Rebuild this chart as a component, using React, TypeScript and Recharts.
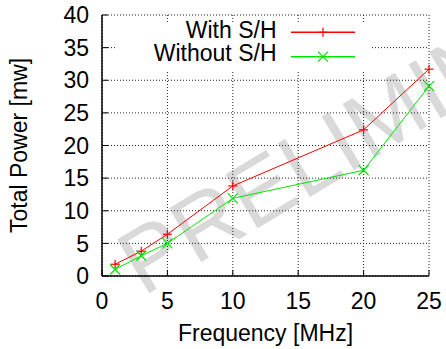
import React from 'react';
import { LineChart, Line, XAxis, YAxis, CartesianGrid, Legend, Label } from 'recharts';

const FREQ_MHZ = [1, 3, 5, 10, 20, 25];
const WITH_SH = [1.8, 3.8, 6.4, 13.8, 22.4, 31.7];
const WITHOUT_SH = [1.0, 3.1, 5.0, 11.9, 16.2, 29.1];
const X_TICKS = [0, 5, 10, 15, 20, 25];
const Y_TICKS = [0, 5, 10, 15, 20, 25, 30, 35, 40];

const RED = '#ff0000';
const GREEN = '#00e600';
const FONT = '"Liberation Sans", Arial, Helvetica, sans-serif';
const FS = 23;

const data = FREQ_MHZ.map((f, i) => ({ freq: f, withSH: WITH_SH[i], withoutSH: WITHOUT_SH[i] }));

function PlusMark({ cx, cy, color }: { cx: number; cy: number; color: string }) {
  const r = 4.5;
  return (
    <g stroke={color} strokeWidth={1.2}>
      <line x1={cx - r} y1={cy} x2={cx + r} y2={cy} />
      <line x1={cx} y1={cy - r} x2={cx} y2={cy + r} />
    </g>
  );
}

function CrossMark({ cx, cy, color }: { cx: number; cy: number; color: string }) {
  const r = 5;
  return (
    <g stroke={color} strokeWidth={1.2}>
      <line x1={cx - r} y1={cy - r} x2={cx + r} y2={cy + r} />
      <line x1={cx - r} y1={cy + r} x2={cx + r} y2={cy - r} />
    </g>
  );
}

// key box sits at left 117, top 15 of the chart
function KeyBox() {
  const rows = [
    { name: 'With S/H', color: RED, mark: 'plus', base: 23.3, line: 17.3 },
    { name: 'Without S/H', color: GREEN, mark: 'cross', base: 46, line: 41.7 },
  ];
  return (
    <svg width={253} height={55} style={{ display: 'block', overflow: 'visible' }}>
      <rect x={0} y={7} width={253} height={48} fill="#fff" />
      {rows.map(r => (
        <g key={r.name}>
          <text x={159.5} y={r.base} textAnchor="end" fontSize={FS} fontFamily={FONT} fill="#000">
            {r.name}
          </text>
          <line x1={174} y1={r.line} x2={238} y2={r.line} stroke={r.color} strokeWidth={1.5} />
          {r.mark === 'plus'
            ? <PlusMark cx={206} cy={r.line} color={r.color} />
            : <CrossMark cx={206} cy={r.line} color={r.color} />}
        </g>
      ))}
    </svg>
  );
}

export default function App() {
  const tickStyle = { fontSize: FS, fontFamily: FONT, fill: '#000' };
  return (
    <div style={{ position: 'absolute', left: 0, top: 0, width: 446, height: 349, background: '#fff', overflow: 'hidden' }}>
      <svg width={446} height={349} style={{ position: 'absolute', left: 0, top: 0 }}>
        <text
          x={143}
          y={297}
          transform="rotate(-31 143 297)"
          fontSize={91}
          fontFamily={FONT}
          fill="#d9d9d9"
        >
          PRELIMINARY
        </text>
      </svg>
      <div style={{ position: 'absolute', left: 0, top: 0 }}>
        <LineChart width={446} height={349} data={data} margin={{ top: 15, right: 17, left: 0, bottom: 0 }}>
          <CartesianGrid stroke="#222" strokeDasharray="1 2" strokeWidth={1} />
          <XAxis
            dataKey="freq"
            type="number"
            domain={[0, 25]}
            ticks={X_TICKS}
            interval={0}
            height={73}
            tickSize={-6}
            tickMargin={23}
            tick={tickStyle}
            axisLine={{ stroke: '#000', strokeWidth: 1.5 }}
            tickLine={{ stroke: '#000' }}
          >
            <Label
              content={({ viewBox }: any) => (
                <text
                  x={viewBox.x + viewBox.width / 2}
                  y={341}
                  textAnchor="middle"
                  fontSize={FS}
                  fontFamily={FONT}
                  fill="#000"
                >
                  Frequency [MHz]
                </text>
              )}
            />
          </XAxis>
          <XAxis
            xAxisId="top"
            orientation="top"
            type="number"
            domain={[0, 25]}
            ticks={X_TICKS}
            interval={0}
            height={0}
            tickSize={-6}
            tickFormatter={() => ''}
            axisLine={{ stroke: '#000', strokeWidth: 1.5 }}
            tickLine={{ stroke: '#000' }}
          />
          <YAxis
            type="number"
            domain={[0, 40]}
            ticks={Y_TICKS}
            interval={0}
            width={102}
            tickSize={-6}
            tickMargin={19}
            tick={tickStyle}
            axisLine={{ stroke: '#000', strokeWidth: 1.5 }}
            tickLine={{ stroke: '#000' }}
          >
            <Label
              content={({ viewBox }: any) => {
                const cy = viewBox.y + viewBox.height / 2;
                return (
                  <text
                    x={19}
                    y={cy}
                    transform={`rotate(-90 19 ${cy})`}
                    textAnchor="middle"
                    dominantBaseline="central"
                    fontSize={FS}
                    fontFamily={FONT}
                    fill="#000"
                  >
                    Total Power [mw]
                  </text>
                );
              }}
            />
          </YAxis>
          <YAxis
            yAxisId="right"
            orientation="right"
            type="number"
            domain={[0, 40]}
            ticks={Y_TICKS}
            interval={0}
            width={0}
            tickSize={-6}
            tickFormatter={() => ''}
            axisLine={{ stroke: '#000', strokeWidth: 1.5 }}
            tickLine={{ stroke: '#000' }}
          />
          <Legend
            layout="vertical"
            align="center"
            verticalAlign="middle"
            content={() => <KeyBox />}
            wrapperStyle={{ left: 117, top: 15, width: 253, height: 55 }}
          />
          <Line
            type="linear"
            dataKey="withSH"
            name="With S/H"
            stroke={RED}
            strokeWidth={1}
            isAnimationActive={false}
            dot={(p: any) => <PlusMark key={`p${p.index}`} cx={p.cx} cy={p.cy} color={RED} />}
            activeDot={false}
          />
          <Line
            type="linear"
            dataKey="withoutSH"
            name="Without S/H"
            stroke={GREEN}
            strokeWidth={1}
            isAnimationActive={false}
            dot={(p: any) => <CrossMark key={`c${p.index}`} cx={p.cx} cy={p.cy} color={GREEN} />}
            activeDot={false}
          />
        </LineChart>
      </div>
    </div>
  );
}
